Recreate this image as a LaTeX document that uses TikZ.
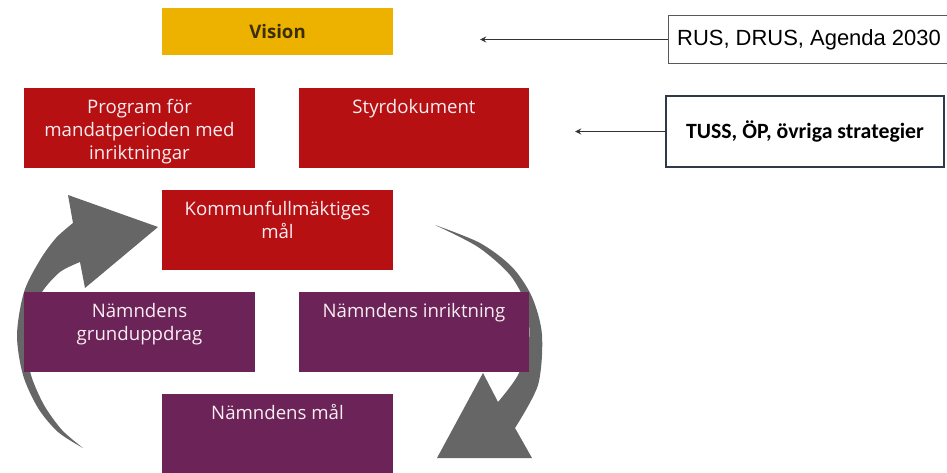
\documentclass[tikz,border=0pt]{standalone}
\usepackage{fontspec}
\setmainfont{Open Sans}
\newfontfamily\rusfont{Liberation Sans}
\newfontfamily\tussfont{Carlito}
\usetikzlibrary{positioning}
\tikzset{>=stealth}
\definecolor{visionyellow}{HTML}{EDB200}
\definecolor{kfred}{HTML}{B71013}
\definecolor{nmpurple}{HTML}{6C2358}
\definecolor{cyclegray}{HTML}{666666}
\definecolor{lighttext}{HTML}{F8EEF2}
\definecolor{darktext}{HTML}{3A2E05}
\definecolor{tussblue}{HTML}{2E3A4A}
\tikzset{
	% coloured boxes of the model
	box/.style={minimum width=4.62cm,minimum height=1.6cm,inner sep=0pt},
	redbox/.style={box,fill=kfred},
	purplebox/.style={box,fill=nmpurple},
	boxtext/.style={anchor=north,yshift=-0.22cm,inner sep=0pt,align=center,
		text=lighttext,font=\fontsize{10.6}{13.1}\selectfont},
	% source boxes on the right
	sourcebox/.style={draw,fill=white,inner sep=0pt},
	sourcearrow/.style={->,line width=0.6pt,black!80},
}
\begin{document}
\begin{tikzpicture}[x=0.02cm,y=-0.02cm]
\useasboundingbox (0,0) rectangle (947,473);
% the two cycle arrows (behind the boxes)
\fill[cyclegray] plot[smooth] coordinates {(83,448) (58,432) (38,408) (23,375) (17,335) (24,292) (40,260) (56,238) (73,223)}
  -- (68,195) -- (158,227) -- (85,288)
  -- plot[smooth] coordinates {(80,262) (60,272) (42,292) (31,318) (27,345) (31,375) (44,405) (62,430) (83,448)} -- cycle;
\fill[cyclegray] plot[smooth] coordinates {(435,225) (480,243) (512,267) (532,297) (542,335) (538,385) (515,428)}
  -- (532,458) -- (437,458) -- (483,373)
  -- plot[smooth] coordinates {(498,402) (518,375) (529,340) (526,305) (510,275) (478,247) (435,225)} -- cycle;
% vision on top
\node[box,fill=visionyellow,minimum height=0.94cm,text=darktext,
  font=\fontsize{10.6}{13}\selectfont\bfseries] (vision) at (277.5,31.5) {Vision};
% red boxes
\node[redbox,label={[boxtext]north:{Program för\\mandatperioden med\\inriktningar}}] (program) at (139.5,128) {};
\node[redbox,label={[boxtext]north:Styrdokument}] (styr) at (414,128) {};
\node[redbox,label={[boxtext]north:{Kommunfullmäktiges\\mål}}] (kfmal) at (277.5,230) {};
% purple boxes
\node[purplebox,label={[boxtext]north:{Nämndens\\grunduppdrag}}] (grund) at (139.5,332) {};
\node[purplebox,label={[boxtext]north:Nämndens inriktning}] (inriktning) at (414,332) {};
\node[purplebox,label={[boxtext]north:Nämndens mål}] (nmal) at (277.5,433.5) {};
% sources and their arrows
\node[sourcebox,draw=black!65,line width=0.6pt,minimum width=5.64cm,minimum height=0.96cm,
  font=\rusfont\fontsize{12.5}{14}\selectfont] (rus) at (809,39.5) {RUS, DRUS, Agenda 2030\hspace{0.3cm}};
\node[sourcebox,draw=tussblue,line width=1pt,minimum width=5.56cm,minimum height=1.42cm,
  font=\tussfont\fontsize{12.4}{14}\selectfont\bfseries] (tuss) at (805,131.5) {TUSS, ÖP, övriga strategier};
\coordinate (visionin) at (480,39.5);
\coordinate (strategin) at (575,131.5);
\draw[sourcearrow] (rus) -- (visionin);
\draw[sourcearrow] (tuss) -- (strategin);
\end{tikzpicture}
\end{document}
